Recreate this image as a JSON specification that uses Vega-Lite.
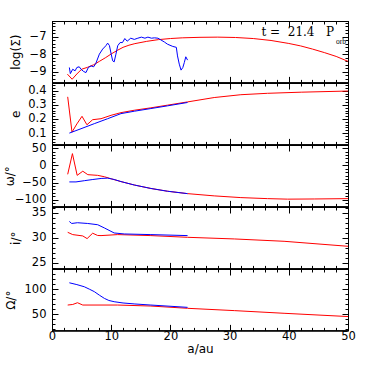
{
"$schema": "https://vega.github.io/schema/vega-lite/v6.json",
"background": "white",
"padding": {"left": 2, "top": 20, "right": 5, "bottom": 5},
"spacing": 0,
"bounds": "flush",
"datasets": {
"logSigma_red": [{"a":2.6,"v":-9.13},{"a":3.4,"v":-9.42},{"a":4.2,"v":-9.12},{"a":5.0,"v":-8.85},{"a":6.0,"v":-8.74},{"a":7.0,"v":-8.6},{"a":8.0,"v":-8.4},{"a":9.0,"v":-8.2},{"a":10.0,"v":-7.98},{"a":11.0,"v":-7.78},{"a":12.0,"v":-7.6},{"a":13.0,"v":-7.48},{"a":14.0,"v":-7.39},{"a":16.0,"v":-7.26},{"a":18.0,"v":-7.16},{"a":20.0,"v":-7.1},{"a":22.0,"v":-7.06},{"a":25.0,"v":-7.03},{"a":28.0,"v":-7.02},{"a":31.0,"v":-7.04},{"a":34.0,"v":-7.1},{"a":37.0,"v":-7.21},{"a":40.0,"v":-7.38},{"a":42.0,"v":-7.52},{"a":44.0,"v":-7.7},{"a":46.0,"v":-7.9},{"a":48.0,"v":-8.12},{"a":50.0,"v":-8.4}],
"logSigma_blue": [{"a":2.93,"v":-8.75},{"a":3.1,"v":-9.1},{"a":3.5,"v":-8.85},{"a":3.9,"v":-8.94},{"a":4.2,"v":-8.75},{"a":4.6,"v":-8.71},{"a":4.9,"v":-8.85},{"a":5.35,"v":-8.98},{"a":5.74,"v":-9.04},{"a":6.14,"v":-8.75},{"a":6.6,"v":-8.66},{"a":7.04,"v":-8.71},{"a":7.4,"v":-8.52},{"a":8.0,"v":-7.99},{"a":8.56,"v":-7.7},{"a":9.1,"v":-7.51},{"a":9.4,"v":-7.36},{"a":9.7,"v":-7.5},{"a":10.0,"v":-7.99},{"a":10.25,"v":-8.37},{"a":10.5,"v":-8.43},{"a":10.8,"v":-7.99},{"a":11.1,"v":-7.51},{"a":11.5,"v":-7.33},{"a":11.9,"v":-7.33},{"a":12.3,"v":-7.1},{"a":12.7,"v":-7.25},{"a":13.3,"v":-7.08},{"a":13.9,"v":-7.15},{"a":14.5,"v":-7.08},{"a":15.1,"v":-7.02},{"a":15.7,"v":-7.08},{"a":16.2,"v":-7.02},{"a":16.8,"v":-7.08},{"a":17.3,"v":-7.06},{"a":17.9,"v":-7.08},{"a":18.4,"v":-7.18},{"a":19.0,"v":-7.3},{"a":19.5,"v":-7.42},{"a":20.4,"v":-7.55},{"a":21.0,"v":-7.6},{"a":21.2,"v":-8.09},{"a":21.5,"v":-8.56},{"a":21.8,"v":-8.9},{"a":22.1,"v":-8.75},{"a":22.35,"v":-8.47},{"a":22.6,"v":-8.14},{"a":22.9,"v":-8.33}],
"e_red": [{"a":2.65,"v":0.357},{"a":3.38,"v":0.107},{"a":4.2,"v":0.165},{"a":5.07,"v":0.219},{"a":5.9,"v":0.159},{"a":6.87,"v":0.195},{"a":8.28,"v":0.202},{"a":9.97,"v":0.226},{"a":11.65,"v":0.245},{"a":13.9,"v":0.262},{"a":16.7,"v":0.279},{"a":19.5,"v":0.298},{"a":22.9,"v":0.321},{"a":27.4,"v":0.352},{"a":31.9,"v":0.372},{"a":36.4,"v":0.382},{"a":42.1,"v":0.39},{"a":50.0,"v":0.398}],
"e_blue": [{"a":2.93,"v":0.1},{"a":4.9,"v":0.131},{"a":7.15,"v":0.167},{"a":9.4,"v":0.202},{"a":11.65,"v":0.238},{"a":13.9,"v":0.255},{"a":16.7,"v":0.274},{"a":19.5,"v":0.293},{"a":22.9,"v":0.317}],
"omega_red": [{"a":2.65,"v":-26},{"a":3.45,"v":34},{"a":4.25,"v":-29},{"a":5.2,"v":-17},{"a":6.05,"v":-27},{"a":7.7,"v":-29},{"a":8.85,"v":-33},{"a":10.0,"v":-39},{"a":11.65,"v":-47},{"a":13.9,"v":-57},{"a":16.7,"v":-67},{"a":19.5,"v":-75},{"a":22.9,"v":-82},{"a":27.4,"v":-88.5},{"a":31.9,"v":-93.5},{"a":36.4,"v":-96.5},{"a":39.8,"v":-98},{"a":44.3,"v":-97.5},{"a":50.0,"v":-96.5}],
"omega_blue": [{"a":2.93,"v":-48},{"a":4.05,"v":-48},{"a":5.46,"v":-44.5},{"a":6.9,"v":-41},{"a":8.3,"v":-38},{"a":9.4,"v":-37},{"a":10.5,"v":-41},{"a":11.65,"v":-47},{"a":13.9,"v":-57},{"a":16.7,"v":-67},{"a":19.5,"v":-75},{"a":22.9,"v":-82}],
"i_red": [{"a":2.65,"v":31.13},{"a":3.5,"v":30.67},{"a":5.2,"v":30.4},{"a":5.93,"v":29.87},{"a":6.87,"v":30.95},{"a":7.7,"v":30.5},{"a":8.28,"v":30.47},{"a":11.1,"v":30.67},{"a":16.7,"v":30.47},{"a":22.9,"v":30.13},{"a":30.8,"v":29.8},{"a":39.2,"v":29.33},{"a":50.0,"v":28.33}],
"i_blue": [{"a":2.93,"v":33.3},{"a":3.33,"v":32.9},{"a":4.3,"v":33.05},{"a":6.03,"v":32.9},{"a":7.72,"v":32.65},{"a":8.85,"v":32.0},{"a":10.5,"v":31.0},{"a":12.2,"v":30.8},{"a":16.7,"v":30.67},{"a":22.9,"v":30.47}],
"Omega_red": [{"a":2.65,"v":68.4},{"a":3.5,"v":69.5},{"a":4.3,"v":73},{"a":5.2,"v":68.4},{"a":11.1,"v":68.4},{"a":16.7,"v":66.4},{"a":22.9,"v":61.9},{"a":30.8,"v":57.3},{"a":39.2,"v":52},{"a":50.0,"v":45.5}],
"Omega_blue": [{"a":2.93,"v":112.6},{"a":4.2,"v":109},{"a":5.46,"v":104.7},{"a":6.3,"v":100},{"a":7.15,"v":95},{"a":8.0,"v":88},{"a":8.85,"v":81.6},{"a":9.6,"v":77.5},{"a":10.5,"v":75},{"a":12.0,"v":72.5},{"a":14.0,"v":70.5},{"a":16.7,"v":68.4},{"a":22.9,"v":63.8}],
"annot_main": [{"a":47.64,"v":-6.98,"label":"t\u00a0=\u00a0\u00a021.4\u00a0\u00a0\u00a0P"}],
"annot_sub": [{"a":47.97,"v":-7.42,"label":"orb"}]
},
"vconcat": [
{
"width": 296, "height": 61.4,
"layer": [
{"data": {"name": "logSigma_red"}, "mark": {"type": "line", "color": "#ff0000", "strokeWidth": 1},
"encoding": {
"x": {"field": "a", "type": "quantitative", "scale": {"domain": [0, 50], "nice": false}, "axis": {"orient": "bottom", "values": [0,10,20,30,40,50], "labels": false, "title": null, "gridOpacity": 0, "domainColor": "#000000", "tickColor": "#000000", "tickSize": -6}},
"y": {"field": "v", "type": "quantitative", "scale": {"domain": [-9.6, -6.1], "nice": false}, "axis": {"orient": "left", "values": [-9,-8,-7], "format": "d", "title": "log(Σ)", "labelPadding": 12, "titlePadding": 7, "gridOpacity": 0, "domainColor": "#000000", "tickColor": "#000000", "tickSize": -6}}
}},
{"data": {"name": "logSigma_blue"}, "mark": {"type": "line", "color": "#0000ff", "strokeWidth": 1},
"encoding": {
"x": {"field": "a", "type": "quantitative", "scale": {"domain": [0, 50], "nice": false}, "axis": {"orient": "top", "values": [0,10,20,30,40,50], "labels": false, "title": null, "gridOpacity": 0, "domainColor": "#000000", "tickColor": "#000000", "tickSize": -6}},
"y": {"field": "v", "type": "quantitative", "scale": {"domain": [-9.6, -6.1], "nice": false}, "axis": {"orient": "right", "values": [-9,-8,-7], "labels": false, "title": null, "gridOpacity": 0, "domainColor": "#000000", "tickColor": "#000000", "tickSize": -6}}
}},
{"data": {"name": "annot_main"}, "mark": {"type": "text", "align": "right", "baseline": "alphabetic", "font": "DejaVu Serif", "fontSize": 12, "color": "#000000"},
"encoding": {
"x": {"field": "a", "type": "quantitative", "scale": {"domain": [0, 50], "nice": false}, "axis": {"orient": "bottom", "values": [0,2,4,6,8,10,12,14,16,18,20,22,24,26,28,30,32,34,36,38,40,42,44,46,48,50], "labels": false, "title": null, "gridOpacity": 0, "domainColor": "#000000", "tickColor": "#000000", "tickSize": -3}},
"y": {"field": "v", "type": "quantitative", "scale": {"domain": [-9.6, -6.1], "nice": false}, "axis": {"orient": "left", "values": [-9.4,-9.2,-9,-8.8,-8.6,-8.4,-8.2,-8,-7.8,-7.6,-7.4,-7.2,-7,-6.8,-6.6,-6.4,-6.2], "labels": false, "title": null, "gridOpacity": 0, "domainColor": "#000000", "tickColor": "#000000", "tickSize": -3}},
"text": {"field": "label"}
}},
{"data": {"name": "annot_sub"}, "mark": {"type": "text", "align": "left", "baseline": "alphabetic", "font": "Liberation Serif", "fontSize": 7.5, "color": "#000000"},
"encoding": {
"x": {"field": "a", "type": "quantitative", "scale": {"domain": [0, 50], "nice": false}, "axis": {"orient": "top", "values": [0,2,4,6,8,10,12,14,16,18,20,22,24,26,28,30,32,34,36,38,40,42,44,46,48,50], "labels": false, "title": null, "gridOpacity": 0, "domainColor": "#000000", "tickColor": "#000000", "tickSize": -3}},
"y": {"field": "v", "type": "quantitative", "scale": {"domain": [-9.6, -6.1], "nice": false}, "axis": {"orient": "right", "values": [-9.4,-9.2,-9,-8.8,-8.6,-8.4,-8.2,-8,-7.8,-7.6,-7.4,-7.2,-7,-6.8,-6.6,-6.4,-6.2], "labels": false, "title": null, "gridOpacity": 0, "domainColor": "#000000", "tickColor": "#000000", "tickSize": -3}},
"text": {"field": "label"}
}}
],
"resolve": {"axis": {"x": "independent", "y": "independent"}}
},
{
"width": 296, "height": 61.4,
"layer": [
{"data": {"name": "e_red"}, "mark": {"type": "line", "color": "#ff0000", "strokeWidth": 1},
"encoding": {
"x": {"field": "a", "type": "quantitative", "scale": {"domain": [0, 50], "nice": false}, "axis": {"orient": "bottom", "values": [0,10,20,30,40,50], "labels": false, "title": null, "gridOpacity": 0, "domainColor": "#000000", "tickColor": "#000000", "tickSize": -6}},
"y": {"field": "v", "type": "quantitative", "scale": {"domain": [0.02, 0.455], "nice": false}, "axis": {"orient": "left", "values": [0.1,0.2,0.3,0.4], "format": ".1f", "title": "e", "labelPadding": 12, "titlePadding": 5, "gridOpacity": 0, "domainColor": "#000000", "tickColor": "#000000", "tickSize": -6}}
}},
{"data": {"name": "e_blue"}, "mark": {"type": "line", "color": "#0000ff", "strokeWidth": 1},
"encoding": {
"x": {"field": "a", "type": "quantitative", "scale": {"domain": [0, 50], "nice": false}, "axis": {"orient": "top", "values": [0,10,20,30,40,50], "labels": false, "title": null, "gridOpacity": 0, "domainColor": "#000000", "tickColor": "#000000", "tickSize": -6}},
"y": {"field": "v", "type": "quantitative", "scale": {"domain": [0.02, 0.455], "nice": false}, "axis": {"orient": "right", "values": [0.1,0.2,0.3,0.4], "labels": false, "title": null, "gridOpacity": 0, "domainColor": "#000000", "tickColor": "#000000", "tickSize": -6}}
}},
{"data": {"name": "e_red"}, "mark": {"type": "line", "opacity": 0},
"encoding": {
"x": {"field": "a", "type": "quantitative", "scale": {"domain": [0, 50], "nice": false}, "axis": {"orient": "bottom", "values": [0,2,4,6,8,10,12,14,16,18,20,22,24,26,28,30,32,34,36,38,40,42,44,46,48,50], "labels": false, "title": null, "gridOpacity": 0, "domainColor": "#000000", "tickColor": "#000000", "tickSize": -3}},
"y": {"field": "v", "type": "quantitative", "scale": {"domain": [0.02, 0.455], "nice": false}, "axis": {"orient": "left", "values": [0.04,0.06,0.08,0.1,0.12,0.14,0.16,0.18,0.2,0.22,0.24,0.26,0.28,0.3,0.32,0.34,0.36,0.38,0.4,0.42,0.44], "labels": false, "title": null, "gridOpacity": 0, "domainColor": "#000000", "tickColor": "#000000", "tickSize": -3}}
}},
{"data": {"name": "e_blue"}, "mark": {"type": "line", "opacity": 0},
"encoding": {
"x": {"field": "a", "type": "quantitative", "scale": {"domain": [0, 50], "nice": false}, "axis": {"orient": "top", "values": [0,2,4,6,8,10,12,14,16,18,20,22,24,26,28,30,32,34,36,38,40,42,44,46,48,50], "labels": false, "title": null, "gridOpacity": 0, "domainColor": "#000000", "tickColor": "#000000", "tickSize": -3}},
"y": {"field": "v", "type": "quantitative", "scale": {"domain": [0.02, 0.455], "nice": false}, "axis": {"orient": "right", "values": [0.04,0.06,0.08,0.1,0.12,0.14,0.16,0.18,0.2,0.22,0.24,0.26,0.28,0.3,0.32,0.34,0.36,0.38,0.4,0.42,0.44], "labels": false, "title": null, "gridOpacity": 0, "domainColor": "#000000", "tickColor": "#000000", "tickSize": -3}}
}}
],
"resolve": {"axis": {"x": "independent", "y": "independent"}}
},
{
"width": 296, "height": 61.4,
"layer": [
{"data": {"name": "omega_red"}, "mark": {"type": "line", "color": "#ff0000", "strokeWidth": 1},
"encoding": {
"x": {"field": "a", "type": "quantitative", "scale": {"domain": [0, 50], "nice": false}, "axis": {"orient": "bottom", "values": [0,10,20,30,40,50], "labels": false, "title": null, "gridOpacity": 0, "domainColor": "#000000", "tickColor": "#000000", "tickSize": -6}},
"y": {"field": "v", "type": "quantitative", "scale": {"domain": [-119, 59], "nice": false}, "axis": {"orient": "left", "values": [-100,-50,0,50], "format": "d", "title": "ω/°", "labelPadding": 12, "titlePadding": -2, "gridOpacity": 0, "domainColor": "#000000", "tickColor": "#000000", "tickSize": -6}}
}},
{"data": {"name": "omega_blue"}, "mark": {"type": "line", "color": "#0000ff", "strokeWidth": 1},
"encoding": {
"x": {"field": "a", "type": "quantitative", "scale": {"domain": [0, 50], "nice": false}, "axis": {"orient": "top", "values": [0,10,20,30,40,50], "labels": false, "title": null, "gridOpacity": 0, "domainColor": "#000000", "tickColor": "#000000", "tickSize": -6}},
"y": {"field": "v", "type": "quantitative", "scale": {"domain": [-119, 59], "nice": false}, "axis": {"orient": "right", "values": [-100,-50,0,50], "labels": false, "title": null, "gridOpacity": 0, "domainColor": "#000000", "tickColor": "#000000", "tickSize": -6}}
}},
{"data": {"name": "omega_red"}, "mark": {"type": "line", "opacity": 0},
"encoding": {
"x": {"field": "a", "type": "quantitative", "scale": {"domain": [0, 50], "nice": false}, "axis": {"orient": "bottom", "values": [0,2,4,6,8,10,12,14,16,18,20,22,24,26,28,30,32,34,36,38,40,42,44,46,48,50], "labels": false, "title": null, "gridOpacity": 0, "domainColor": "#000000", "tickColor": "#000000", "tickSize": -3}},
"y": {"field": "v", "type": "quantitative", "scale": {"domain": [-119, 59], "nice": false}, "axis": {"orient": "left", "values": [-110,-100,-90,-80,-70,-60,-50,-40,-30,-20,-10,0,10,20,30,40,50], "labels": false, "title": null, "gridOpacity": 0, "domainColor": "#000000", "tickColor": "#000000", "tickSize": -3}}
}},
{"data": {"name": "omega_blue"}, "mark": {"type": "line", "opacity": 0},
"encoding": {
"x": {"field": "a", "type": "quantitative", "scale": {"domain": [0, 50], "nice": false}, "axis": {"orient": "top", "values": [0,2,4,6,8,10,12,14,16,18,20,22,24,26,28,30,32,34,36,38,40,42,44,46,48,50], "labels": false, "title": null, "gridOpacity": 0, "domainColor": "#000000", "tickColor": "#000000", "tickSize": -3}},
"y": {"field": "v", "type": "quantitative", "scale": {"domain": [-119, 59], "nice": false}, "axis": {"orient": "right", "values": [-110,-100,-90,-80,-70,-60,-50,-40,-30,-20,-10,0,10,20,30,40,50], "labels": false, "title": null, "gridOpacity": 0, "domainColor": "#000000", "tickColor": "#000000", "tickSize": -3}}
}}
],
"resolve": {"axis": {"x": "independent", "y": "independent"}}
},
{
"width": 296, "height": 61.4,
"layer": [
{"data": {"name": "i_red"}, "mark": {"type": "line", "color": "#ff0000", "strokeWidth": 1},
"encoding": {
"x": {"field": "a", "type": "quantitative", "scale": {"domain": [0, 50], "nice": false}, "axis": {"orient": "bottom", "values": [0,10,20,30,40,50], "labels": false, "title": null, "gridOpacity": 0, "domainColor": "#000000", "tickColor": "#000000", "tickSize": -6}},
"y": {"field": "v", "type": "quantitative", "scale": {"domain": [23.9, 36.2], "nice": false}, "axis": {"orient": "left", "values": [25,30,35], "format": "d", "title": "i/°", "labelPadding": 12, "titlePadding": 9, "gridOpacity": 0, "domainColor": "#000000", "tickColor": "#000000", "tickSize": -6}}
}},
{"data": {"name": "i_blue"}, "mark": {"type": "line", "color": "#0000ff", "strokeWidth": 1},
"encoding": {
"x": {"field": "a", "type": "quantitative", "scale": {"domain": [0, 50], "nice": false}, "axis": {"orient": "top", "values": [0,10,20,30,40,50], "labels": false, "title": null, "gridOpacity": 0, "domainColor": "#000000", "tickColor": "#000000", "tickSize": -6}},
"y": {"field": "v", "type": "quantitative", "scale": {"domain": [23.9, 36.2], "nice": false}, "axis": {"orient": "right", "values": [25,30,35], "labels": false, "title": null, "gridOpacity": 0, "domainColor": "#000000", "tickColor": "#000000", "tickSize": -6}}
}},
{"data": {"name": "i_red"}, "mark": {"type": "line", "opacity": 0},
"encoding": {
"x": {"field": "a", "type": "quantitative", "scale": {"domain": [0, 50], "nice": false}, "axis": {"orient": "bottom", "values": [0,2,4,6,8,10,12,14,16,18,20,22,24,26,28,30,32,34,36,38,40,42,44,46,48,50], "labels": false, "title": null, "gridOpacity": 0, "domainColor": "#000000", "tickColor": "#000000", "tickSize": -3}},
"y": {"field": "v", "type": "quantitative", "scale": {"domain": [23.9, 36.2], "nice": false}, "axis": {"orient": "left", "values": [24,25,26,27,28,29,30,31,32,33,34,35,36], "labels": false, "title": null, "gridOpacity": 0, "domainColor": "#000000", "tickColor": "#000000", "tickSize": -3}}
}},
{"data": {"name": "i_blue"}, "mark": {"type": "line", "opacity": 0},
"encoding": {
"x": {"field": "a", "type": "quantitative", "scale": {"domain": [0, 50], "nice": false}, "axis": {"orient": "top", "values": [0,2,4,6,8,10,12,14,16,18,20,22,24,26,28,30,32,34,36,38,40,42,44,46,48,50], "labels": false, "title": null, "gridOpacity": 0, "domainColor": "#000000", "tickColor": "#000000", "tickSize": -3}},
"y": {"field": "v", "type": "quantitative", "scale": {"domain": [23.9, 36.2], "nice": false}, "axis": {"orient": "right", "values": [24,25,26,27,28,29,30,31,32,33,34,35,36], "labels": false, "title": null, "gridOpacity": 0, "domainColor": "#000000", "tickColor": "#000000", "tickSize": -3}}
}}
],
"resolve": {"axis": {"x": "independent", "y": "independent"}}
},
{
"width": 296, "height": 61.4,
"layer": [
{"data": {"name": "Omega_red"}, "mark": {"type": "line", "color": "#ff0000", "strokeWidth": 1},
"encoding": {
"x": {"field": "a", "type": "quantitative", "scale": {"domain": [0, 50], "nice": false}, "axis": {"orient": "bottom", "values": [0,10,20,30,40,50], "format": "d", "title": "a/au", "labelPadding": 6, "titlePadding": 2, "labelFlush": false, "gridOpacity": 0, "domainColor": "#000000", "tickColor": "#000000", "tickSize": -6}},
"y": {"field": "v", "type": "quantitative", "scale": {"domain": [18, 140], "nice": false}, "axis": {"orient": "left", "values": [50,100], "format": "d", "title": "Ω/°", "labelPadding": 12, "titlePadding": 6.5, "gridOpacity": 0, "domainColor": "#000000", "tickColor": "#000000", "tickSize": -6}}
}},
{"data": {"name": "Omega_blue"}, "mark": {"type": "line", "color": "#0000ff", "strokeWidth": 1},
"encoding": {
"x": {"field": "a", "type": "quantitative", "scale": {"domain": [0, 50], "nice": false}, "axis": {"orient": "top", "values": [0,10,20,30,40,50], "labels": false, "title": null, "gridOpacity": 0, "domainColor": "#000000", "tickColor": "#000000", "tickSize": -6}},
"y": {"field": "v", "type": "quantitative", "scale": {"domain": [18, 140], "nice": false}, "axis": {"orient": "right", "values": [50,100], "labels": false, "title": null, "gridOpacity": 0, "domainColor": "#000000", "tickColor": "#000000", "tickSize": -6}}
}},
{"data": {"name": "Omega_red"}, "mark": {"type": "line", "opacity": 0},
"encoding": {
"x": {"field": "a", "type": "quantitative", "scale": {"domain": [0, 50], "nice": false}, "axis": {"orient": "bottom", "values": [0,2,4,6,8,10,12,14,16,18,20,22,24,26,28,30,32,34,36,38,40,42,44,46,48,50], "labels": false, "title": null, "gridOpacity": 0, "domainColor": "#000000", "tickColor": "#000000", "tickSize": -3}},
"y": {"field": "v", "type": "quantitative", "scale": {"domain": [18, 140], "nice": false}, "axis": {"orient": "left", "values": [20,30,40,50,60,70,80,90,100,110,120,130], "labels": false, "title": null, "gridOpacity": 0, "domainColor": "#000000", "tickColor": "#000000", "tickSize": -3}}
}},
{"data": {"name": "Omega_blue"}, "mark": {"type": "line", "opacity": 0},
"encoding": {
"x": {"field": "a", "type": "quantitative", "scale": {"domain": [0, 50], "nice": false}, "axis": {"orient": "top", "values": [0,2,4,6,8,10,12,14,16,18,20,22,24,26,28,30,32,34,36,38,40,42,44,46,48,50], "labels": false, "title": null, "gridOpacity": 0, "domainColor": "#000000", "tickColor": "#000000", "tickSize": -3}},
"y": {"field": "v", "type": "quantitative", "scale": {"domain": [18, 140], "nice": false}, "axis": {"orient": "right", "values": [20,30,40,50,60,70,80,90,100,110,120,130], "labels": false, "title": null, "gridOpacity": 0, "domainColor": "#000000", "tickColor": "#000000", "tickSize": -3}}
}}
],
"resolve": {"axis": {"x": "independent", "y": "independent"}}
}
],
"config": {
"view": {"stroke": "#000000", "strokeWidth": 1},
"axis": {"labelColor": "#000000", "titleColor": "#000000", "labelFont": "DejaVu Sans", "labelFontSize": 11.5, "titleFont": "DejaVu Sans", "titleFontSize": 12, "titleFontWeight": "normal"}
}
}
